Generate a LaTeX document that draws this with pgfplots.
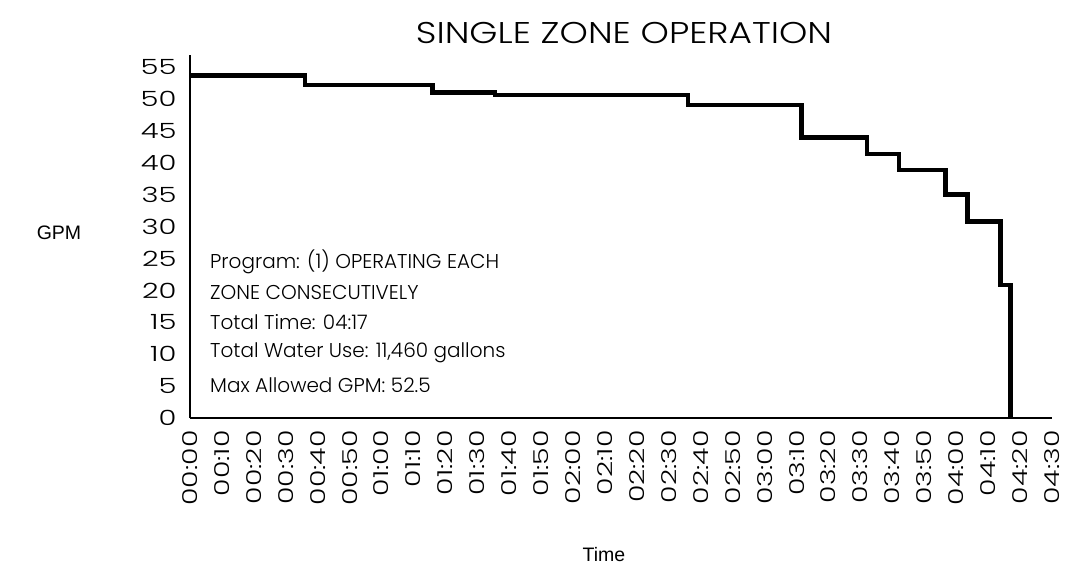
\documentclass[border=0pt]{standalone}
\usepackage{pgfplots}
\pgfplotsset{compat=1.18}
\usepackage{fontspec}
\setmainfont{Poppins Light}
\newfontfamily\widefont{Poppins Light}[FakeStretch=1.38]
\newfontfamily\titlefont{Poppins Light}[FakeStretch=1.2]
\newfontfamily\arialfont{Liberation Sans}
\begin{document}
\begin{tikzpicture}
\path[use as bounding box] (-190pt,-155pt) rectangle (876pt,418pt);
\begin{axis}[
  scale only axis,
  width=862pt, height=363pt,
  at={(0,0)}, anchor=south west,
  xmin=0, xmax=270, ymin=0, ymax=56.9,
  axis x line=bottom, axis y line=left,
  axis line style={-, line width=1.6pt},
  xtick={0,10,...,270},
  xticklabels={00:00,00:10,00:20,00:30,00:40,00:50,01:00,01:10,01:20,01:30,01:40,01:50,02:00,02:10,02:20,02:30,02:40,02:50,03:00,03:10,03:20,03:30,03:40,03:50,04:00,04:10,04:20,04:30},
  ytick={0,5,...,55},
  major tick length=0pt,
  /pgf/number format/assume math mode=true,
  x tick label style={rotate=90, anchor=east, font=\widefont\fontsize{20.5}{22}\selectfont, xshift=-9pt},
  y tick label style={font=\widefont\fontsize{21}{23}\selectfont, xshift=-10pt},
  clip=false,
]
\addplot[const plot, line width=4.5pt, black] coordinates {
(0,53.7) (36,52.2) (76,51.0) (95.5,50.6) (156,49.1) (191.5,44.0) (212,41.4)
(222,38.9) (236.6,35.0) (243.6,30.8) (253.8,20.85) (257,0)
};
\end{axis}
\node[font=\titlefont\fontsize{30}{32}\selectfont] at (434pt,385pt) {SINGLE ZONE OPERATION};
\node[font=\arialfont\fontsize{19.5}{22}\selectfont] at (-131pt,185pt) {GPM};
\node[font=\arialfont\fontsize{19.5}{22}\selectfont] at (414pt,-137pt) {Time};
\node[anchor=west, font=\fontsize{20}{22}\selectfont, inner sep=0pt] at (20pt,156pt) {Program: (1) OPERATING EACH};
\node[anchor=west, font=\fontsize{20}{22}\selectfont, inner sep=0pt] at (20pt,125pt) {ZONE CONSECUTIVELY};
\node[anchor=west, font=\fontsize{20}{22}\selectfont, inner sep=0pt] at (20pt,96pt) {Total Time: 04:17};
\node[anchor=west, font=\fontsize{20}{22}\selectfont, inner sep=0pt] at (20pt,65pt) {Total Water Use: 11,460 gallons};
\node[anchor=west, font=\fontsize{20}{22}\selectfont, inner sep=0pt] at (20pt,33pt) {Max Allowed GPM: 52.5};
\end{tikzpicture}
\end{document}
